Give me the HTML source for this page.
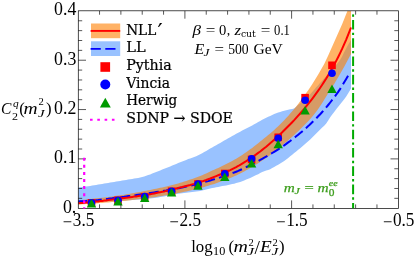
<!DOCTYPE html>
<html><head><meta charset="utf-8"><title>plot</title>
<style>
html,body{margin:0;padding:0;background:#fff;}
svg{display:block;}
svg{font-family:"Liberation Serif","DejaVu Serif",serif;}
</style></head><body>
<svg width="416" height="259" viewBox="0 0 416 259">
<rect width="416" height="259" fill="#fff"/>
<defs><clipPath id="cp"><rect x="78.2" y="10.9" width="320.1" height="197.29999999999998"/></clipPath></defs>
<g clip-path="url(#cp)">
<path d="M78.2,187.6 L80.2,187.3 L82.2,187.1 L84.2,186.8 L86.2,186.5 L88.2,186.2 L90.2,185.9 L92.2,185.6 L94.2,185.3 L96.2,185.0 L98.2,184.6 L100.2,184.3 L102.2,184.0 L104.2,183.6 L106.2,183.3 L108.2,183.0 L110.2,182.6 L112.2,182.3 L114.2,181.9 L116.2,181.6 L118.2,181.2 L120.2,180.9 L122.2,180.5 L124.2,180.2 L126.2,179.9 L128.2,179.5 L130.2,179.2 L132.2,178.9 L134.2,178.6 L136.2,178.3 L138.2,177.9 L140.2,177.5 L142.2,177.0 L144.2,176.4 L146.2,175.7 L148.2,175.1 L150.2,174.4 L152.2,173.6 L154.2,172.8 L156.2,172.0 L158.2,171.2 L160.2,170.4 L162.2,169.6 L164.2,168.8 L166.2,168.0 L168.2,167.2 L170.2,166.4 L172.2,165.5 L174.2,164.7 L176.2,163.9 L178.2,163.1 L180.2,162.3 L182.2,161.5 L184.2,160.7 L186.2,159.9 L188.2,159.1 L190.2,158.4 L192.2,157.7 L194.2,157.0 L196.2,156.2 L198.2,155.3 L200.2,154.3 L202.2,153.3 L204.2,152.1 L206.2,151.0 L208.2,149.8 L210.2,148.6 L212.2,147.5 L214.2,146.3 L216.2,145.2 L218.2,144.1 L220.2,142.9 L222.2,141.8 L224.2,140.6 L226.2,139.5 L228.2,138.3 L230.2,137.2 L232.2,136.0 L234.2,134.9 L236.2,133.8 L238.2,132.7 L240.2,131.7 L242.2,130.6 L244.2,129.6 L246.2,128.5 L248.2,127.5 L250.2,126.4 L252.2,125.4 L254.2,124.3 L256.2,123.2 L258.2,122.0 L260.2,120.9 L262.2,119.7 L264.2,118.7 L266.2,117.7 L268.2,116.8 L270.2,115.9 L272.2,115.0 L274.2,114.1 L276.2,113.3 L278.2,112.6 L280.2,111.9 L282.2,111.3 L284.2,110.8 L286.2,110.2 L288.2,109.7 L290.2,109.3 L292.2,108.9 L294.0,108.6 L296.0,106.9 L298.0,105.1 L300.0,103.4 L302.0,101.6 L304.0,100.0 L306.0,98.3 L308.0,96.5 L310.0,94.5 L312.0,92.3 L314.0,90.0 L316.0,87.6 L318.0,85.4 L320.0,83.1 L322.0,80.9 L324.0,78.6 L326.0,76.4 L328.0,74.2 L330.0,71.9 L332.0,69.7 L334.0,67.3 L336.0,65.1 L338.0,62.7 L340.0,60.0 L342.0,56.7 L344.0,52.6 L346.0,48.7 L348.0,45.1 L350.0,41.7 L351.0,40.0 L351.0,88.6 L350.2,90.0 L348.2,93.3 L346.2,96.4 L344.2,99.3 L342.2,101.8 L340.2,104.2 L338.2,106.7 L336.2,109.2 L334.2,111.9 L332.2,114.6 L330.2,117.3 L328.2,120.4 L326.2,123.6 L324.2,125.7 L322.2,127.6 L320.2,129.6 L318.2,131.6 L316.2,133.6 L314.2,135.6 L312.2,137.6 L310.2,139.5 L308.2,141.3 L306.2,143.1 L304.2,144.8 L302.2,146.5 L300.2,148.2 L298.2,149.8 L296.2,151.4 L294.2,153.1 L292.2,154.7 L290.2,156.3 L288.2,157.9 L286.2,159.4 L284.2,160.9 L282.2,162.3 L280.2,163.6 L278.2,164.7 L276.2,165.7 L274.2,166.9 L272.2,168.1 L270.2,169.2 L268.2,170.0 L266.2,170.6 L264.2,171.3 L262.2,172.1 L260.2,173.1 L258.2,174.2 L256.2,175.1 L254.2,176.1 L252.2,177.0 L250.2,177.9 L248.2,178.8 L246.2,179.6 L244.2,180.4 L242.2,181.2 L240.2,181.9 L238.2,182.6 L236.2,183.1 L234.2,183.7 L232.2,184.1 L230.2,184.6 L228.2,185.0 L226.2,185.4 L224.2,185.7 L222.2,186.1 L220.2,186.5 L218.2,186.9 L216.2,187.2 L214.2,187.7 L212.2,188.1 L210.2,188.6 L208.2,189.1 L206.2,189.6 L204.2,190.1 L202.2,190.5 L200.2,190.9 L198.2,191.2 L196.2,191.5 L194.2,191.7 L192.2,192.0 L190.2,192.2 L188.2,192.5 L186.2,192.7 L184.2,192.9 L182.2,193.2 L180.2,193.5 L178.2,193.8 L176.2,194.1 L174.2,194.5 L172.2,194.8 L170.2,195.2 L168.2,195.6 L166.2,196.0 L164.2,196.4 L162.2,196.7 L160.2,197.1 L158.2,197.4 L156.2,197.8 L154.2,198.1 L152.2,198.3 L150.2,198.6 L148.2,198.8 L146.2,199.0 L144.2,199.2 L142.2,199.3 L140.2,199.5 L138.2,199.7 L136.2,199.8 L134.2,199.9 L132.2,200.1 L130.2,200.2 L128.2,200.3 L126.2,200.4 L124.2,200.5 L122.2,200.7 L120.2,200.8 L118.2,200.9 L116.2,201.0 L114.2,201.1 L112.2,201.2 L110.2,201.3 L108.2,201.4 L106.2,201.5 L104.2,201.6 L102.2,201.7 L100.2,201.8 L98.2,201.9 L96.2,202.0 L94.2,202.0 L92.2,202.1 L90.2,202.2 L88.2,202.2 L86.2,202.3 L84.2,202.4 L82.2,202.4 L80.2,202.5 L78.2,202.5Z" fill="#99c2ff"/>
<path d="M78.2,200.5 L80.2,200.3 L82.2,200.0 L84.2,199.8 L86.2,199.6 L88.2,199.3 L90.2,199.1 L92.2,198.8 L94.2,198.6 L96.2,198.3 L98.2,198.1 L100.2,197.9 L102.2,197.7 L104.2,197.4 L106.2,197.2 L108.2,196.9 L110.2,196.7 L112.2,196.4 L114.2,196.1 L116.2,195.8 L118.2,195.6 L120.2,195.3 L122.2,195.0 L124.2,194.7 L126.2,194.3 L128.2,194.0 L130.2,193.7 L132.2,193.3 L134.2,193.0 L136.2,192.6 L138.2,192.3 L140.2,191.9 L142.2,191.5 L144.2,191.1 L146.2,190.7 L148.2,190.3 L150.2,189.9 L152.2,189.5 L154.2,189.1 L156.2,188.7 L158.2,188.3 L160.2,187.8 L162.2,187.4 L164.2,186.9 L166.2,186.5 L168.2,186.0 L170.2,185.5 L172.2,185.0 L174.2,184.4 L176.2,183.9 L178.2,183.4 L180.2,182.8 L182.2,182.2 L184.2,181.6 L186.2,180.9 L188.2,180.3 L190.2,179.6 L192.2,178.9 L194.2,178.2 L196.2,177.5 L198.2,176.8 L200.2,176.0 L202.2,175.2 L204.2,174.3 L206.2,173.4 L208.2,172.5 L210.2,171.6 L212.2,170.6 L214.2,169.7 L216.2,168.8 L218.2,167.9 L220.2,167.0 L222.2,166.0 L224.2,165.1 L226.2,164.1 L228.2,163.0 L230.2,162.0 L232.2,160.9 L234.2,159.8 L236.2,158.7 L238.2,157.6 L240.2,156.3 L242.2,154.9 L244.2,153.6 L246.2,152.2 L248.2,150.8 L250.2,149.3 L252.2,147.9 L254.2,146.3 L256.2,144.8 L258.2,143.2 L260.2,141.6 L262.2,139.9 L264.2,138.3 L266.2,136.7 L268.2,135.1 L270.2,133.4 L272.2,131.7 L274.2,129.9 L276.2,128.0 L278.2,126.2 L280.2,124.2 L282.2,122.3 L284.2,120.2 L286.2,118.1 L288.2,115.9 L290.2,113.6 L292.2,111.3 L294.2,108.9 L296.2,106.4 L298.2,103.9 L300.2,101.3 L302.2,98.6 L304.2,95.9 L306.2,93.1 L308.2,90.2 L310.2,87.2 L312.2,84.2 L314.2,81.0 L316.2,77.8 L318.2,74.5 L320.2,71.1 L322.2,67.6 L324.2,63.9 L326.2,59.8 L328.2,55.5 L330.2,51.1 L332.2,46.6 L334.2,42.0 L336.2,37.5 L338.2,33.1 L340.2,28.6 L342.2,23.9 L344.2,19.1 L346.2,14.1 L348.2,9.0 L350.2,3.7 L351.0,1.5 L351.0,54.0 L350.2,55.5 L348.2,59.3 L346.2,63.1 L344.2,66.7 L342.2,70.3 L340.2,73.8 L338.2,77.2 L336.2,80.6 L334.2,83.9 L332.2,87.1 L330.2,90.2 L328.2,93.3 L326.2,96.5 L324.2,99.8 L322.2,102.9 L320.2,106.1 L318.2,109.1 L316.2,111.7 L314.2,114.2 L312.2,116.7 L310.2,119.1 L308.2,121.2 L306.2,123.3 L304.2,125.3 L302.2,127.3 L300.2,129.2 L298.2,131.2 L296.2,133.1 L294.2,135.0 L292.2,136.8 L290.2,138.5 L288.2,140.2 L286.2,141.9 L284.2,143.6 L282.2,145.4 L280.2,147.1 L278.2,148.8 L276.2,150.4 L274.2,152.0 L272.2,153.5 L270.2,155.0 L268.2,156.5 L266.2,157.9 L264.2,159.3 L262.2,160.6 L260.2,162.0 L258.2,163.3 L256.2,164.5 L254.2,165.8 L252.2,166.9 L250.2,168.1 L248.2,169.2 L246.2,170.3 L244.2,171.4 L242.2,172.5 L240.2,173.5 L238.2,174.5 L236.2,175.4 L234.2,176.3 L232.2,177.2 L230.2,178.0 L228.2,178.8 L226.2,179.6 L224.2,180.4 L222.2,181.1 L220.2,181.8 L218.2,182.5 L216.2,183.2 L214.2,183.9 L212.2,184.5 L210.2,185.1 L208.2,185.7 L206.2,186.3 L204.2,186.9 L202.2,187.5 L200.2,188.0 L198.2,188.5 L196.2,189.0 L194.2,189.5 L192.2,190.0 L190.2,190.5 L188.2,191.0 L186.2,191.4 L184.2,191.8 L182.2,192.3 L180.2,192.7 L178.2,193.1 L176.2,193.5 L174.2,193.9 L172.2,194.2 L170.2,194.6 L168.2,194.9 L166.2,195.3 L164.2,195.6 L162.2,196.0 L160.2,196.3 L158.2,196.6 L156.2,196.9 L154.2,197.2 L152.2,197.5 L150.2,197.8 L148.2,198.1 L146.2,198.3 L144.2,198.6 L142.2,198.8 L140.2,199.1 L138.2,199.3 L136.2,199.6 L134.2,199.8 L132.2,200.0 L130.2,200.2 L128.2,200.4 L126.2,200.7 L124.2,200.9 L122.2,201.1 L120.2,201.3 L118.2,201.5 L116.2,201.7 L114.2,201.9 L112.2,202.0 L110.2,202.2 L108.2,202.4 L106.2,202.6 L104.2,202.8 L102.2,202.9 L100.2,203.1 L98.2,203.3 L96.2,203.4 L94.2,203.6 L92.2,203.7 L90.2,203.8 L88.2,203.9 L86.2,204.1 L84.2,204.2 L82.2,204.3 L80.2,204.4 L78.2,204.5Z" fill="#ff8000" fill-opacity="0.6"/>
<path d="M78.2,201.5 L80.2,201.3 L82.2,201.2 L84.2,201.1 L86.2,200.9 L88.2,200.8 L90.2,200.7 L92.2,200.5 L94.2,200.4 L96.2,200.2 L98.2,200.0 L100.2,199.7 L102.2,199.5 L104.2,199.3 L106.2,199.0 L108.2,198.8 L110.2,198.5 L112.2,198.3 L114.2,198.0 L116.2,197.8 L118.2,197.5 L120.2,197.2 L122.2,196.9 L124.2,196.7 L126.2,196.4 L128.2,196.1 L130.2,195.9 L132.2,195.6 L134.2,195.3 L136.2,195.1 L138.2,194.8 L140.2,194.5 L142.2,194.2 L144.2,193.9 L146.2,193.6 L148.2,193.3 L150.2,193.0 L152.2,192.7 L154.2,192.4 L156.2,192.1 L158.2,191.8 L160.2,191.5 L162.2,191.2 L164.2,190.8 L166.2,190.5 L168.2,190.1 L170.2,189.8 L172.2,189.4 L174.2,189.0 L176.2,188.7 L178.2,188.3 L180.2,187.9 L182.2,187.4 L184.2,187.0 L186.2,186.6 L188.2,186.1 L190.2,185.7 L192.2,185.2 L194.2,184.7 L196.2,184.3 L198.2,183.8 L200.2,183.2 L202.2,182.7 L204.2,182.2 L206.2,181.6 L208.2,181.1 L210.2,180.5 L212.2,179.9 L214.2,179.3 L216.2,178.7 L218.2,178.1 L220.2,177.4 L222.2,176.8 L224.2,176.1 L226.2,175.4 L228.2,174.7 L230.2,174.0 L232.2,173.2 L234.2,172.5 L236.2,171.7 L238.2,170.9 L240.2,170.0 L242.2,169.1 L244.2,168.2 L246.2,167.2 L248.2,166.2 L250.2,165.2 L252.2,164.2 L254.2,163.1 L256.2,162.1 L258.2,161.0 L260.2,159.9 L262.2,158.8 L264.2,157.7 L266.2,156.5 L268.2,155.4 L270.2,154.2 L272.2,153.0 L274.2,151.8 L276.2,150.6 L278.2,149.3 L280.2,148.0 L282.2,146.6 L284.2,145.3 L286.2,143.9 L288.2,142.4 L290.2,141.0 L292.2,139.5 L294.2,137.9 L296.2,136.3 L298.2,134.7 L300.2,133.1 L302.2,131.4 L304.2,129.7 L306.2,127.9 L308.2,126.1 L310.2,124.2 L312.2,122.3 L314.2,120.4 L316.2,118.4 L318.2,116.3 L320.2,114.2 L322.2,112.0 L324.2,109.7 L326.2,107.4 L328.2,105.0 L330.2,102.5 L332.2,99.9 L334.2,97.3 L336.2,94.6 L338.2,91.8 L340.2,88.9 L342.2,85.7 L344.2,82.3 L346.2,78.9 L348.2,75.4" fill="none" stroke="#00f" stroke-width="2" stroke-dasharray="10.1 4.3" stroke-dashoffset="0.9"/>
<path d="M78.2,203.3 L80.2,203.1 L82.2,203.0 L84.2,202.8 L86.2,202.6 L88.2,202.4 L90.2,202.2 L92.2,202.0 L94.2,201.8 L96.2,201.6 L98.2,201.4 L100.2,201.1 L102.2,200.9 L104.2,200.6 L106.2,200.4 L108.2,200.1 L110.2,199.8 L112.2,199.6 L114.2,199.3 L116.2,199.1 L118.2,198.8 L120.2,198.5 L122.2,198.3 L124.2,198.0 L126.2,197.7 L128.2,197.5 L130.2,197.2 L132.2,196.9 L134.2,196.6 L136.2,196.4 L138.2,196.1 L140.2,195.8 L142.2,195.5 L144.2,195.2 L146.2,194.9 L148.2,194.5 L150.2,194.2 L152.2,193.8 L154.2,193.4 L156.2,193.0 L158.2,192.6 L160.2,192.2 L162.2,191.8 L164.2,191.4 L166.2,190.9 L168.2,190.5 L170.2,190.0 L172.2,189.5 L174.2,189.0 L176.2,188.5 L178.2,188.0 L180.2,187.4 L182.2,187.0 L184.2,186.5 L186.2,186.0 L188.2,185.5 L190.2,185.0 L192.2,184.4 L194.2,183.9 L196.2,183.3 L198.2,182.7 L200.2,182.1 L202.2,181.4 L204.2,180.7 L206.2,180.0 L208.2,179.2 L210.2,178.5 L212.2,177.7 L214.2,176.9 L216.2,176.1 L218.2,175.3 L220.2,174.5 L222.2,173.7 L224.2,172.8 L226.2,171.9 L228.2,171.0 L230.2,170.1 L232.2,169.1 L234.2,168.1 L236.2,167.1 L238.2,166.0 L240.2,164.8 L242.2,163.6 L244.2,162.4 L246.2,161.2 L248.2,159.9 L250.2,158.6 L252.2,157.2 L254.2,155.8 L256.2,154.4 L258.2,152.9 L260.2,151.5 L262.2,149.9 L264.2,148.3 L266.2,146.7 L268.2,145.0 L270.2,143.3 L272.2,141.6 L274.2,139.8 L276.2,138.0 L278.2,136.1 L280.2,134.2 L282.2,132.3 L284.2,130.3 L286.2,128.3 L288.2,126.3 L290.2,124.3 L292.2,122.2 L294.2,120.1 L296.2,117.9 L298.2,115.7 L300.2,113.5 L302.2,111.2 L304.2,108.8 L306.2,106.4 L308.2,103.9 L310.2,101.4 L312.2,98.8 L314.2,96.1 L316.2,93.4 L318.2,90.6 L320.2,87.7 L322.2,84.7 L324.2,81.6 L326.2,78.5 L328.2,75.2 L330.2,71.8 L332.2,68.3 L334.2,64.7 L336.2,60.9 L338.2,57.0 L340.2,52.9 L342.2,48.7 L344.2,44.2 L346.2,39.6 L348.2,34.7 L350.2,29.6 L351.0,27.5" fill="none" stroke="#f00" stroke-width="2"/>
<rect x="87.7" y="199.0" width="7.6" height="7.6" fill="#f00"/><rect x="114.2" y="196.5" width="7.6" height="7.6" fill="#f00"/><rect x="140.9" y="192.9" width="7.6" height="7.6" fill="#f00"/><rect x="167.8" y="187.5" width="7.6" height="7.6" fill="#f00"/><rect x="194.2" y="180.2" width="7.6" height="7.6" fill="#f00"/><rect x="221.0" y="169.7" width="7.6" height="7.6" fill="#f00"/><rect x="247.8" y="155.6" width="7.6" height="7.6" fill="#f00"/><rect x="274.4" y="133.5" width="7.6" height="7.6" fill="#f00"/><rect x="301.3" y="93.9" width="7.6" height="7.6" fill="#f00"/><rect x="328.2" y="61.5" width="7.6" height="7.6" fill="#f00"/><circle cx="91.5" cy="202.7" r="3.8" fill="#00f"/><circle cx="118.0" cy="200.2" r="3.8" fill="#00f"/><circle cx="144.7" cy="196.6" r="3.8" fill="#00f"/><circle cx="171.6" cy="191.2" r="3.8" fill="#00f"/><circle cx="198.0" cy="184.0" r="3.8" fill="#00f"/><circle cx="224.8" cy="173.8" r="3.8" fill="#00f"/><circle cx="251.6" cy="158.7" r="3.8" fill="#00f"/><circle cx="278.2" cy="138.3" r="3.8" fill="#00f"/><circle cx="305.1" cy="100.3" r="3.8" fill="#00f"/><circle cx="332.0" cy="73.2" r="3.8" fill="#00f"/><path d="M91.5,199.0 L96.2,207.4 L86.8,207.4Z" fill="#009a00"/><path d="M118.0,197.1 L122.7,205.5 L113.3,205.5Z" fill="#009a00"/><path d="M144.7,193.5 L149.4,201.9 L140.0,201.9Z" fill="#009a00"/><path d="M171.6,188.1 L176.3,196.5 L166.9,196.5Z" fill="#009a00"/><path d="M198.0,181.3 L202.7,189.7 L193.3,189.7Z" fill="#009a00"/><path d="M224.8,172.5 L229.5,180.9 L220.1,180.9Z" fill="#009a00"/><path d="M251.6,159.1 L256.3,167.5 L246.9,167.5Z" fill="#009a00"/><path d="M278.2,139.8 L282.9,148.2 L273.5,148.2Z" fill="#009a00"/><path d="M305.1,106.0 L309.8,114.4 L300.4,114.4Z" fill="#009a00"/><path d="M332.0,84.6 L336.7,93.0 L327.3,93.0Z" fill="#009a00"/>
</g>
<path d="M99.54,208.2 v-3.8 M99.54,10.9 v3.8 M120.88,208.2 v-3.8 M120.88,10.9 v3.8 M142.22,208.2 v-3.8 M142.22,10.9 v3.8 M163.56,208.2 v-3.8 M163.56,10.9 v3.8 M184.90,208.2 v-7.8 M184.90,10.9 v7.8 M206.24,208.2 v-3.8 M206.24,10.9 v3.8 M227.58,208.2 v-3.8 M227.58,10.9 v3.8 M248.92,208.2 v-3.8 M248.92,10.9 v3.8 M270.26,208.2 v-3.8 M270.26,10.9 v3.8 M291.60,208.2 v-7.8 M291.60,10.9 v7.8 M312.94,208.2 v-3.8 M312.94,10.9 v3.8 M334.28,208.2 v-3.8 M334.28,10.9 v3.8 M355.62,208.2 v-3.8 M355.62,10.9 v3.8 M376.96,208.2 v-3.8 M376.96,10.9 v3.8 M78.2,198.33 h4.0 M398.3,198.33 h-4.0 M78.2,188.47 h4.0 M398.3,188.47 h-4.0 M78.2,178.60 h4.0 M398.3,178.60 h-4.0 M78.2,168.74 h4.0 M398.3,168.74 h-4.0 M78.2,158.88 h7.8 M398.3,158.88 h-7.8 M78.2,149.01 h4.0 M398.3,149.01 h-4.0 M78.2,139.14 h4.0 M398.3,139.14 h-4.0 M78.2,129.28 h4.0 M398.3,129.28 h-4.0 M78.2,119.42 h4.0 M398.3,119.42 h-4.0 M78.2,109.55 h7.8 M398.3,109.55 h-7.8 M78.2,99.69 h4.0 M398.3,99.69 h-4.0 M78.2,89.82 h4.0 M398.3,89.82 h-4.0 M78.2,79.96 h4.0 M398.3,79.96 h-4.0 M78.2,70.09 h4.0 M398.3,70.09 h-4.0 M78.2,60.23 h7.8 M398.3,60.23 h-7.8 M78.2,50.36 h4.0 M398.3,50.36 h-4.0 M78.2,40.50 h4.0 M398.3,40.50 h-4.0 M78.2,30.63 h4.0 M398.3,30.63 h-4.0 M78.2,20.77 h4.0 M398.3,20.77 h-4.0" fill="none" stroke="#111" stroke-width="0.7"/>
<rect x="78.3" y="10.8" width="320.3" height="197.6" fill="none" stroke="#111" stroke-width="0.75"/>
<path d="M84.2,157.8 V208.6" fill="none" stroke="#f0f" stroke-width="2.2" stroke-dasharray="3 4.07"/>
<path d="M353.1,19.9 V208.2" fill="none" stroke="#0a0" stroke-width="2" stroke-dasharray="9.6 3.15 2.4 3.15"/>
<path d="M353.1,14.4 v2.4" fill="none" stroke="#0a0" stroke-width="2"/>
<!-- legend -->
<rect x="91" y="23.5" width="29.2" height="14.7" fill="#ffb266"/>
<path d="M90.6,30.9 H120.2" stroke="#f00" stroke-width="1.9"/>
<rect x="91" y="41.3" width="29.2" height="14.7" fill="#99c2ff"/>
<path d="M90.6,48.9 H119.8" stroke="#00f" stroke-width="1.9" stroke-dasharray="10.2 4.5"/>
<rect x="100.4" y="62.2" width="9.7" height="9.6" fill="#f00"/>
<circle cx="105.3" cy="84.5" r="5" fill="#00f"/>
<path d="M105.3,97.7 L110.8,107.4 L99.9,107.4Z" fill="#009a00"/>
<path d="M90.0,119.8 H118" stroke="#f0f" stroke-width="2.1" stroke-dasharray="2.6 4.7"/>
<text x="62.9" y="212.5" font-size="18.1px" textLength="13.4" lengthAdjust="spacingAndGlyphs">0.</text>
<text x="54.0" y="163.2" font-size="18.1px" textLength="22.3" lengthAdjust="spacingAndGlyphs">0.1</text>
<text x="54.0" y="113.8" font-size="18.1px" textLength="22.3" lengthAdjust="spacingAndGlyphs">0.2</text>
<text x="54.0" y="64.5" font-size="18.1px" textLength="22.3" lengthAdjust="spacingAndGlyphs">0.3</text>
<text x="54.0" y="15.2" font-size="18.1px" textLength="22.3" lengthAdjust="spacingAndGlyphs">0.4</text>
<text x="62.8" y="227.6" font-size="18.1px" textLength="9.4" lengthAdjust="spacingAndGlyphs">−</text>
<text x="72.8" y="225.7" font-size="18.1px" textLength="21.5" lengthAdjust="spacingAndGlyphs">3.5</text>
<text x="169.5" y="227.6" font-size="18.1px" textLength="9.4" lengthAdjust="spacingAndGlyphs">−</text>
<text x="179.5" y="225.7" font-size="18.1px" textLength="21.5" lengthAdjust="spacingAndGlyphs">2.5</text>
<text x="276.2" y="227.6" font-size="18.1px" textLength="9.4" lengthAdjust="spacingAndGlyphs">−</text>
<text x="286.2" y="225.7" font-size="18.1px" textLength="21.5" lengthAdjust="spacingAndGlyphs">1.5</text>
<text x="382.9" y="227.6" font-size="18.1px" textLength="9.4" lengthAdjust="spacingAndGlyphs">−</text>
<text x="392.9" y="225.7" font-size="18.1px" textLength="21.5" lengthAdjust="spacingAndGlyphs">0.5</text>
<text stroke="#000" stroke-width="0.22" x="126.2" y="34.7" font-size="14.4px" font-family='"DejaVu Serif","Liberation Serif",serif' textLength="30.0" lengthAdjust="spacingAndGlyphs">NLL</text>
<text stroke="#000" stroke-width="0.22" x="126.2" y="52.1" font-size="14.4px" font-family='"DejaVu Serif","Liberation Serif",serif' textLength="19.4" lengthAdjust="spacingAndGlyphs">LL</text>
<text stroke="#000" stroke-width="0.22" x="126.2" y="69.8" font-size="14.4px" font-family='"DejaVu Serif","Liberation Serif",serif' textLength="45.5" lengthAdjust="spacingAndGlyphs">Pythia</text>
<text stroke="#000" stroke-width="0.22" x="126.2" y="87.6" font-size="14.4px" font-family='"DejaVu Serif","Liberation Serif",serif' textLength="43.8" lengthAdjust="spacingAndGlyphs">Vincia</text>
<text stroke="#000" stroke-width="0.22" x="126.2" y="105.0" font-size="14.4px" font-family='"DejaVu Serif","Liberation Serif",serif' textLength="51.0" lengthAdjust="spacingAndGlyphs">Herwig</text>
<text stroke="#000" stroke-width="0.22" x="126.2" y="123.2" font-size="14.4px" font-family='"DejaVu Serif","Liberation Serif",serif' textLength="106.7" lengthAdjust="spacingAndGlyphs">SDNP → SDOE</text>
<text x="157.4" y="39.4" font-size="23px" font-family='"DejaVu Serif","Liberation Serif",serif'>′</text>
<text x="192.6" y="34.7" font-size="13.8px" font-family='"Liberation Serif","DejaVu Serif",serif' font-style="italic" textLength="8.5" lengthAdjust="spacingAndGlyphs">β</text>
<text x="205.8" y="34.7" font-size="13.8px" font-family='"Liberation Serif","DejaVu Serif",serif' textLength="9.6" lengthAdjust="spacingAndGlyphs">=</text>
<text x="219.0" y="34.7" font-size="13.8px" font-family='"Liberation Serif","DejaVu Serif",serif' textLength="7.3" lengthAdjust="spacingAndGlyphs">0</text>
<text x="226.7" y="34.7" font-size="13.8px" font-family='"Liberation Serif","DejaVu Serif",serif'>,</text>
<text x="234.6" y="34.7" font-size="13.8px" font-family='"Liberation Serif","DejaVu Serif",serif' font-style="italic" textLength="6.6" lengthAdjust="spacingAndGlyphs">z</text>
<text x="240.9" y="36.9" font-size="9.2px" font-family='"DejaVu Serif","Liberation Serif",serif' textLength="14.9" lengthAdjust="spacingAndGlyphs">cut</text>
<text x="260.8" y="34.7" font-size="13.8px" font-family='"Liberation Serif","DejaVu Serif",serif' textLength="9.6" lengthAdjust="spacingAndGlyphs">=</text>
<text x="274.1" y="34.7" font-size="13.8px" font-family='"Liberation Serif","DejaVu Serif",serif' textLength="15.8" lengthAdjust="spacingAndGlyphs">0.1</text>
<text x="194.5" y="53.7" font-size="13.8px" font-family='"Liberation Serif","DejaVu Serif",serif' font-style="italic" textLength="9.7" lengthAdjust="spacingAndGlyphs">E</text>
<text x="203.6" y="55.9" font-size="9.6px" font-family='"Liberation Serif","DejaVu Serif",serif' font-style="italic" textLength="5.9" lengthAdjust="spacingAndGlyphs">J</text>
<text x="214.5" y="53.7" font-size="13.8px" font-family='"Liberation Serif","DejaVu Serif",serif' textLength="9.5" lengthAdjust="spacingAndGlyphs">=</text>
<text x="228.2" y="53.7" font-size="13.8px" font-family='"Liberation Serif","DejaVu Serif",serif' textLength="20.5" lengthAdjust="spacingAndGlyphs">500</text>
<text x="253.4" y="53.7" font-size="13.8px" font-family='"Liberation Serif","DejaVu Serif",serif' textLength="29.4" lengthAdjust="spacingAndGlyphs">GeV</text>
<text x="283.7" y="191.6" font-size="13.2px" font-family='"Liberation Serif","DejaVu Serif",serif' font-style="italic" fill="#3f9f1f" stroke="#3f9f1f" stroke-width="0.25" textLength="11.0" lengthAdjust="spacingAndGlyphs">m</text>
<text x="294.6" y="194.3" font-size="8.8px" font-family='"Liberation Serif","DejaVu Serif",serif' font-style="italic" fill="#3f9f1f" stroke="#3f9f1f" stroke-width="0.25" textLength="5.3" lengthAdjust="spacingAndGlyphs">J</text>
<text x="304.5" y="191.6" font-size="13.2px" font-family='"Liberation Serif","DejaVu Serif",serif' fill="#3f9f1f" stroke="#3f9f1f" stroke-width="0.25" textLength="9.3" lengthAdjust="spacingAndGlyphs">=</text>
<text x="317.5" y="191.6" font-size="13.2px" font-family='"Liberation Serif","DejaVu Serif",serif' font-style="italic" fill="#3f9f1f" stroke="#3f9f1f" stroke-width="0.25" textLength="11.1" lengthAdjust="spacingAndGlyphs">m</text>
<text x="328.7" y="186.4" font-size="8.8px" font-family='"Liberation Serif","DejaVu Serif",serif' font-style="italic" fill="#3f9f1f" stroke="#3f9f1f" stroke-width="0.25" textLength="9.0" lengthAdjust="spacingAndGlyphs">ee</text>
<text x="328.7" y="196.2" font-size="9.4px" font-family='"Liberation Serif","DejaVu Serif",serif' fill="#3f9f1f" stroke="#3f9f1f" stroke-width="0.25" textLength="5.7" lengthAdjust="spacingAndGlyphs">0</text>
<text x="191.2" y="252.0" font-size="16.7px" font-family='"Liberation Serif","DejaVu Serif",serif' textLength="21.5" lengthAdjust="spacingAndGlyphs">log</text>
<text x="213.1" y="255.4" font-size="11.7px" font-family='"Liberation Serif","DejaVu Serif",serif' textLength="12.2" lengthAdjust="spacingAndGlyphs">10</text>
<text x="228.6" y="252.0" font-size="16.7px" font-family='"Liberation Serif","DejaVu Serif",serif'>(</text>
<text x="233.4" y="252.0" font-size="16.7px" font-family='"Liberation Serif","DejaVu Serif",serif' font-style="italic" textLength="14.4" lengthAdjust="spacingAndGlyphs">m</text>
<text x="248.5" y="245.5" font-size="10.6px" font-family='"Liberation Serif","DejaVu Serif",serif' textLength="5.2" lengthAdjust="spacingAndGlyphs">2</text>
<text x="246.9" y="255.3" font-size="10.6px" font-family='"Liberation Serif","DejaVu Serif",serif' font-style="italic" textLength="7.1" lengthAdjust="spacingAndGlyphs">J</text>
<text x="254.6" y="254.2" font-size="19.5px" font-family='"Liberation Serif","DejaVu Serif",serif'>/</text>
<text x="259.9" y="252.0" font-size="16.7px" font-family='"Liberation Serif","DejaVu Serif",serif' font-style="italic" textLength="11.8" lengthAdjust="spacingAndGlyphs">E</text>
<text x="272.6" y="245.5" font-size="10.6px" font-family='"Liberation Serif","DejaVu Serif",serif' textLength="5.2" lengthAdjust="spacingAndGlyphs">2</text>
<text x="271.5" y="255.3" font-size="10.6px" font-family='"Liberation Serif","DejaVu Serif",serif' font-style="italic" textLength="6.8" lengthAdjust="spacingAndGlyphs">J</text>
<text x="279.0" y="252.0" font-size="16.7px" font-family='"Liberation Serif","DejaVu Serif",serif'>)</text>
<text x="0.9" y="114.4" font-size="16.7px" font-family='"Liberation Serif","DejaVu Serif",serif' font-style="italic" textLength="10.4" lengthAdjust="spacingAndGlyphs">C</text>
<text x="13.0" y="106.6" font-size="11.4px" font-family='"Liberation Serif","DejaVu Serif",serif' font-style="italic">q</text>
<text x="12.1" y="119.8" font-size="10.6px" font-family='"Liberation Serif","DejaVu Serif",serif' textLength="6.0" lengthAdjust="spacingAndGlyphs">2</text>
<text x="19.2" y="114.4" font-size="16.7px" font-family='"Liberation Serif","DejaVu Serif",serif'>(</text>
<text x="23.6" y="114.4" font-size="16.7px" font-family='"Liberation Serif","DejaVu Serif",serif' font-style="italic" textLength="14.1" lengthAdjust="spacingAndGlyphs">m</text>
<text x="38.6" y="104.9" font-size="10.6px" font-family='"Liberation Serif","DejaVu Serif",serif'>2</text>
<text x="37.9" y="116.8" font-size="10.6px" font-family='"Liberation Serif","DejaVu Serif",serif' font-style="italic" textLength="6.6" lengthAdjust="spacingAndGlyphs">J</text>
<text x="45.9" y="114.4" font-size="16.7px" font-family='"Liberation Serif","DejaVu Serif",serif'>)</text>
</svg>
</body></html>
